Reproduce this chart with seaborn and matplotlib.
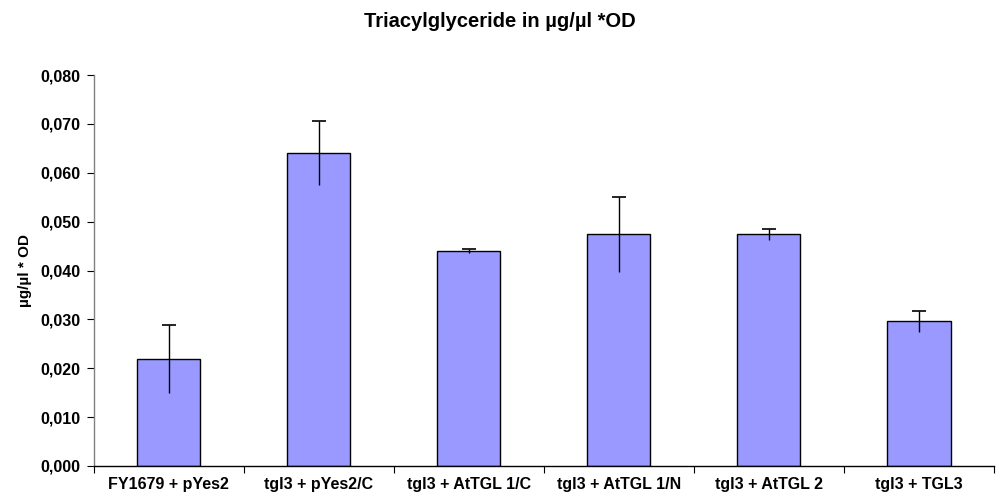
import matplotlib
matplotlib.use("Agg")
import matplotlib.pyplot as plt
import matplotlib.ticker as mticker
import seaborn as sns
import pandas as pd
import numpy as np

categories = ["FY1679 + pYes2", "tgl3 + pYes2/C", "tgl3 + AtTGL 1/C",
              "tgl3 + AtTGL 1/N", "tgl3 + AtTGL 2", "tgl3 + TGL3"]
values = [0.0219, 0.0641, 0.0440, 0.0474, 0.0474, 0.0296]
errors = [0.0069, 0.0066, 0.0005, 0.0076, 0.0011, 0.0022]
title = "Triacylglyceride in µg/µl *OD"
ylabel = "µg/µl * OD"

sns.set_theme(style="white")
plt.rcParams['font.family'] = ['Liberation Sans', 'DejaVu Sans']
plt.rcParams['text.color'] = 'black'
plt.rcParams['axes.labelcolor'] = 'black'
plt.rcParams['xtick.color'] = 'black'
plt.rcParams['ytick.color'] = 'black'

fig = plt.figure(figsize=(9.99, 4.94), dpi=100)
ax = fig.add_axes([0.094, 0.0567, 0.901, 0.7913])

df = pd.DataFrame({"cat": categories, "val": values})
sns.barplot(data=df, x="cat", y="val", color="#9999FF", saturation=1,
            width=0.42, edgecolor="black", linewidth=1.0, ax=ax, errorbar=None)

x = np.arange(len(categories))
top = np.array(values) + np.array(errors)
ax.errorbar(x, values, yerr=errors, fmt="none", ecolor="black",
            elinewidth=1.0, capsize=0)
ax.plot(x, top, linestyle="none", marker="_", markersize=10,
        markeredgewidth=1.2, color="black")

ax.set_xlim(-0.5, len(categories) - 0.5)
ax.set_ylim(0, 0.08)
ax.yaxis.set_major_locator(mticker.MultipleLocator(0.01))
ax.yaxis.set_major_formatter(mticker.FuncFormatter(lambda v, p: f"{v:.3f}".replace(".", ",")))

for s in ["top", "right"]:
    ax.spines[s].set_visible(False)
ax.spines["left"].set_color("#808080")
ax.spines["bottom"].set_color("black")
ax.spines["left"].set_linewidth(1.0)
ax.spines["bottom"].set_linewidth(1.0)

ax.tick_params(axis="y", which="major", direction="out", length=5, width=0.8,
               color="black", labelcolor="black", labelsize=11.5, pad=5, left=True)
ax.tick_params(axis="x", which="major", length=0, labelsize=11.5, pad=8,
               labelcolor="black")
ax.set_xticks(np.arange(len(categories) + 1) - 0.5, minor=True)
ax.tick_params(axis="x", which="minor", direction="out", length=5, width=0.8,
               color="black", bottom=True)

for lab in ax.get_yticklabels() + ax.get_xticklabels():
    lab.set_fontweight("bold")

ax.set_xlabel("")
ax.set_ylabel(ylabel, fontsize=11, fontweight="bold", labelpad=6, color="black")
fig.text(0.5, 0.957, title, ha="center", va="center", fontsize=14.5,
         fontweight="bold", color="black")

fig.savefig("out.png", dpi=100, facecolor="white")
